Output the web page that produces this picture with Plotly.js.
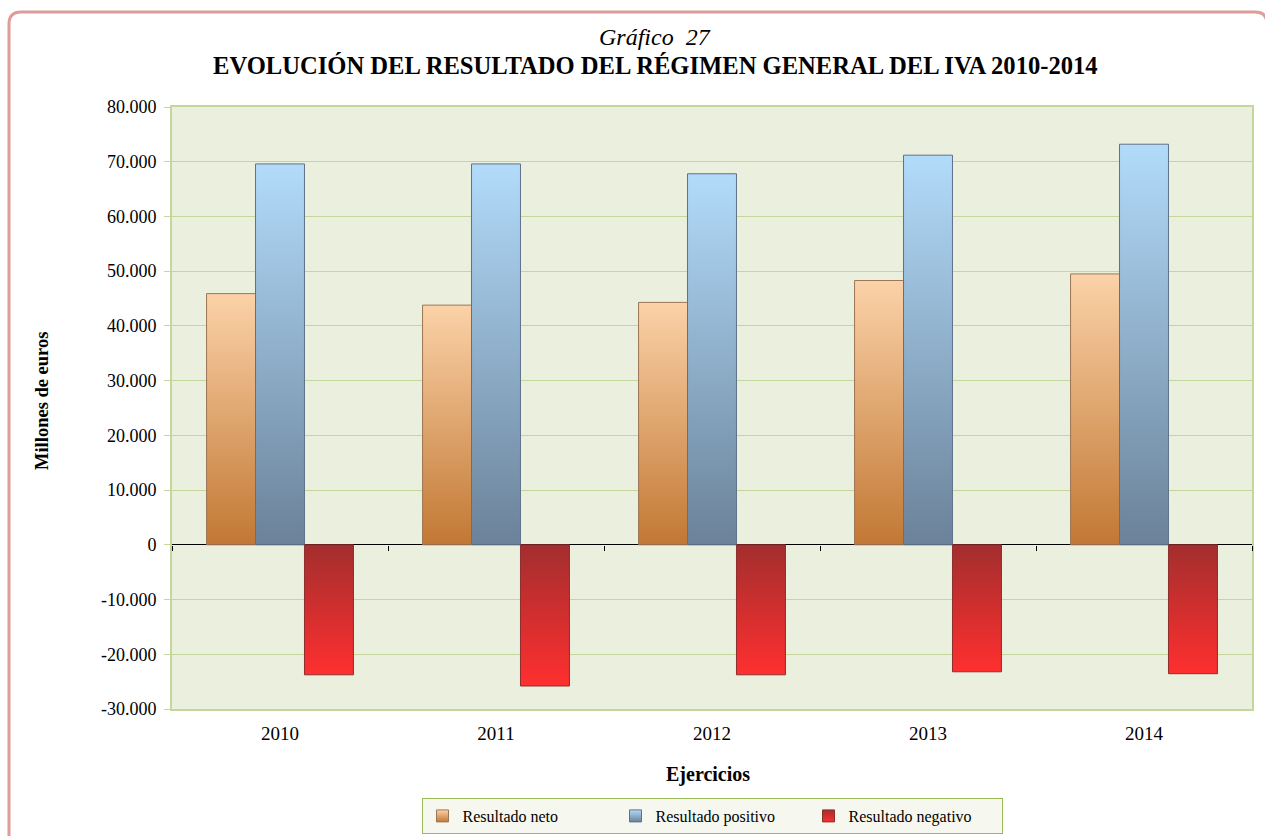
<!DOCTYPE html>
<html>
<head>
<meta charset="utf-8">
<script src="https://cdn.plot.ly/plotly-3.0.1.min.js"></script>
<style>
html,body{margin:0;padding:0;background:#fff;}
#chart{width:1265px;height:836px;}
</style>
</head>
<body>
<div id="chart"></div>
<script>
// ---- data ----
const years = ["2010", "2011", "2012", "2013", "2014"];
const resultadoNeto = [45900, 43800, 44300, 48300, 49500];
const resultadoPositivo = [69600, 69600, 67800, 71200, 73200];
const resultadoNegativo = [-23750, -25800, -23750, -23200, -23550];
const seriesNames = ["Resultado neto", "Resultado positivo", "Resultado negativo"];
const yTickVals = [-30000, -20000, -10000, 0, 10000, 20000, 30000, 40000, 50000, 60000, 70000, 80000];
const yTickText = ["-30.000", "-20.000", "-10.000", "0", "10.000", "20.000", "30.000", "40.000", "50.000", "60.000", "70.000", "80.000"];
const chartTitleTop = "Gráfico  27";
const chartTitle = "EVOLUCIÓN DEL RESULTADO DEL RÉGIMEN GENERAL DEL IVA 2010-2014";
const yTitle = "Millones de euros";
const xTitle = "Ejercicios";

// ---- layout geometry (pixels) ----
const W = 1265, H = 836;
const L = 172, R = 1252, T = 107, B = 709;
const yMin = -30000, yMax = 80000;
const px = x => (x - L) / (R - L);
const py = y => (B - y) / (B - T);

const serif = "Liberation Serif";
const fills = ["#dca06a", "#8eaed0", "#d23434"];
const borders = ["#9c7656", "#5d7189", "#8a2e2e"];
const grads = [
  ["#fbd2a8", "#c27834"],
  ["#b2dbfa", "#6b8299"],
  ["#a32e2e", "#ff2f2f"]
];

const seriesValues = [resultadoNeto, resultadoPositivo, resultadoNegativo];
const traces = seriesValues.map((vals, i) => ({
  type: "bar",
  name: seriesNames[i],
  x: years,
  y: vals,
  marker: {color: fills[i], line: {color: borders[i], width: 1}},
  hoverinfo: "x+y+name"
}));
// invisible helper trace giving the zero-line axis its category ticks
traces.push({
  type: "scatter", mode: "none", x: years, y: resultadoNeto,
  xaxis: "x2", yaxis: "y", showlegend: false, hoverinfo: "skip"
});

const r = 12; // corner radius px
const fx0 = 9, fy0 = 12, fx1 = 1267, fyB = 860;
const framePath =
  `M ${px(fx0)} ${py(fyB)} L ${px(fx0)} ${py(fy0 + r)} ` +
  `Q ${px(fx0)} ${py(fy0)} ${px(fx0 + r)} ${py(fy0)} ` +
  `L ${px(fx1 - r)} ${py(fy0)} Q ${px(fx1)} ${py(fy0)} ${px(fx1)} ${py(fy0 + r)} ` +
  `L ${px(fx1)} ${py(fyB)}`;

const layout = {
  width: W, height: H,
  margin: {l: L, r: W - R, t: T, b: H - B, pad: 0, autoexpand: false},
  paper_bgcolor: "#ffffff",
  plot_bgcolor: "#ebf0de",
  font: {family: serif, size: 17, color: "#000"},
  barmode: "group",
  bargap: 0.32,
  bargroupgap: 0,
  showlegend: true,
  legend: {
    orientation: "h", x: px(712), xanchor: "center",
    yref: "container", y: 1 - 798 / H, yanchor: "top",
    bgcolor: "#f6f8f0", bordercolor: "#9bbb59", borderwidth: 1,
    font: {family: serif, size: 16, color: "#000"},
    itemwidth: 30, traceorder: "normal", entrywidth: 148
  },
  xaxis: {
    type: "category", categoryorder: "array", categoryarray: years,
    range: [-0.5, years.length - 0.5],
    showgrid: false, zeroline: false,
    showline: true, linecolor: "#c3d69b", linewidth: 2, mirror: true,
    ticks: "", ticklabelstandoff: 6,
    tickfont: {family: serif, size: 19, color: "#000"}
  },
  xaxis2: {
    type: "category", categoryorder: "array", categoryarray: years,
    range: [-0.5, years.length - 0.5],
    overlaying: "x", anchor: "free",
    position: (0 - yMin) / (yMax - yMin),
    side: "bottom",
    showgrid: false, zeroline: false, showline: false,
    showticklabels: false,
    ticks: "outside", tickson: "boundaries", ticklen: 5, tickwidth: 1, tickcolor: "#000"
  },
  yaxis: {
    range: [yMin, yMax],
    tickvals: yTickVals, ticktext: yTickText,
    showgrid: true, gridcolor: "#c3d69b", gridwidth: 1,
    zeroline: true, zerolinecolor: "#000", zerolinewidth: 1,
    showline: true, linecolor: "#c3d69b", linewidth: 2, mirror: true,
    ticks: "outside", ticklen: 6, tickcolor: "#c3d69b", tickwidth: 1,
    ticklabelstandoff: 4,
    tickfont: {family: serif, size: 18, color: "#000"}
  },
  annotations: [
    {text: chartTitleTop, xref: "paper", yref: "paper", x: px(655), y: py(37),
     xanchor: "center", yanchor: "middle", showarrow: false,
     font: {family: serif, size: 24, color: "#000", style: "italic"}},
    {text: "<b>" + chartTitle + "</b>", xref: "paper", yref: "paper", x: px(655), y: py(66),
     xanchor: "center", yanchor: "middle", showarrow: false,
     font: {family: serif, size: 24.6, color: "#000"}},
    {text: "<b>" + yTitle + "</b>", xref: "paper", yref: "paper", x: px(42), y: py(401),
     xanchor: "center", yanchor: "middle", textangle: -90, showarrow: false,
     font: {family: serif, size: 18.5, color: "#000"}},
    {text: "<b>" + xTitle + "</b>", xref: "paper", yref: "paper", x: px(708), y: py(774),
     xanchor: "center", yanchor: "middle", showarrow: false,
     font: {family: serif, size: 20, color: "#000"}}
  ],
  shapes: [
    {type: "path", xref: "paper", yref: "paper", path: framePath, layer: "below",
     line: {color: "#de9c9b", width: 3}}
  ]
};

Plotly.newPlot("chart", traces, layout, {displayModeBar: false, staticPlot: true}).then(gd => {
  const svg = gd.querySelector(".main-svg");
  let defs = svg.querySelector("defs");
  const ns = "http://www.w3.org/2000/svg";
  grads.forEach((g, i) => {
    const lg = document.createElementNS(ns, "linearGradient");
    lg.setAttribute("id", "barGrad" + i);
    lg.setAttribute("x1", "0"); lg.setAttribute("y1", "0");
    lg.setAttribute("x2", "0"); lg.setAttribute("y2", "1");
    [[0, g[0]], [1, g[1]]].forEach(([o, c]) => {
      const s = document.createElementNS(ns, "stop");
      s.setAttribute("offset", o); s.setAttribute("stop-color", c);
      lg.appendChild(s);
    });
    defs.appendChild(lg);
  });
  gd.querySelectorAll(".barlayer .trace.bars").forEach((tr, i) => {
    tr.querySelectorAll("path").forEach(p => { p.style.fill = "url(#barGrad" + i + ")"; });
  });
  gd.querySelectorAll(".legend .traces").forEach((tr, i) => {
    tr.querySelectorAll(".legendpoints path").forEach(p => {
      if (i < grads.length) p.style.fill = "url(#barGrad" + i + ")";
    });
  });
});
</script>
</body>
</html>
